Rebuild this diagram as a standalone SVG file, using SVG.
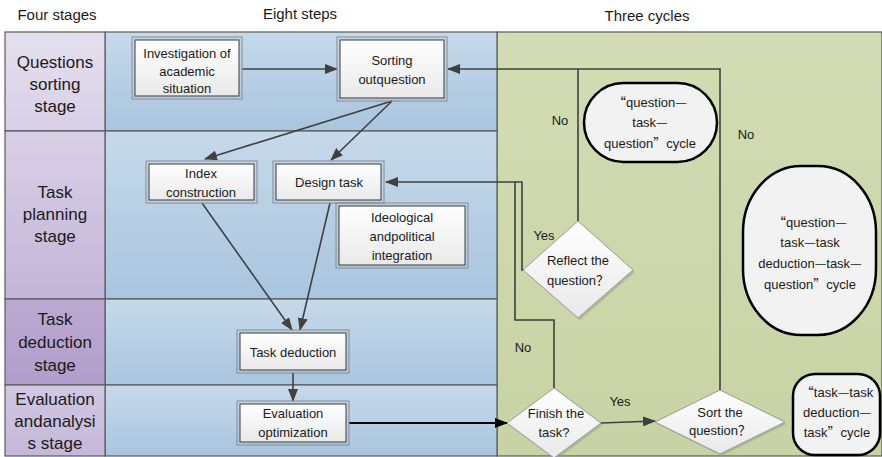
<svg xmlns="http://www.w3.org/2000/svg" width="882" height="457" viewBox="0 0 882 457">
<style>
text{font-family:"Liberation Sans","Noto Sans CJK SC",sans-serif;fill:#1a1a1a;text-anchor:middle}
.cj{font-family:"Noto Sans CJK SC",sans-serif}
.hd{font-size:15px}
.st{font-size:17px}
.bx{font-size:13px}
.lb{font-size:13px}
.cell{stroke:#5a5a5a;stroke-width:1.2}
.outer{fill:none;stroke:#8a8a8a;stroke-width:1}
.inner{fill:url(#gBox);stroke:#3a3a3a;stroke-width:1}
.dia{fill:url(#gBox);stroke:#9a9a9a;stroke-width:1}
.sh{fill:#9fa88a;opacity:0.6}
.cyc{fill:#f2f2f2;stroke:#000;stroke-width:2.5}
.ln{fill:none;stroke:#404040;stroke-width:1.6}
</style>
<defs>
<linearGradient id="gBox" x1="0" y1="0" x2="0" y2="1"><stop offset="0" stop-color="#ffffff"/><stop offset="1" stop-color="#e9e9e9"/></linearGradient>
<linearGradient id="gBlue" x1="0" y1="0" x2="0" y2="1"><stop offset="0" stop-color="#c6d9ea"/><stop offset="1" stop-color="#a9c5df"/></linearGradient>
<linearGradient id="gGreen" x1="0" y1="0" x2="0" y2="1"><stop offset="0" stop-color="#d3dcb4"/><stop offset="1" stop-color="#c7d3a4"/></linearGradient>
<linearGradient id="gP1" x1="0" y1="0" x2="0" y2="1"><stop offset="0" stop-color="#e4dfee"/><stop offset="1" stop-color="#d8d0e6"/></linearGradient>
<linearGradient id="gP2" x1="0" y1="0" x2="0" y2="1"><stop offset="0" stop-color="#d8d0e6"/><stop offset="1" stop-color="#c3b5d7"/></linearGradient>
<linearGradient id="gP3" x1="0" y1="0" x2="0" y2="1"><stop offset="0" stop-color="#bca9d1"/><stop offset="1" stop-color="#b29ecb"/></linearGradient>
<linearGradient id="gP4" x1="0" y1="0" x2="0" y2="1"><stop offset="0" stop-color="#d2c8e2"/><stop offset="1" stop-color="#c4b7d8"/></linearGradient>
<marker id="ar" markerUnits="userSpaceOnUse" markerWidth="13" markerHeight="10" refX="12" refY="5" orient="auto"><path d="M0,0 L13,5 L0,10 z" fill="#404040"/></marker>
<marker id="arK" markerUnits="userSpaceOnUse" markerWidth="13" markerHeight="10" refX="12" refY="5" orient="auto"><path d="M0,0 L13,5 L0,10 z" fill="#000"/></marker>
</defs>
<rect width="882" height="457" fill="#ffffff"/>
<g id="headers">
<text class="hd" x="57" y="20">Four stages</text>
<text class="hd" x="300" y="19">Eight steps</text>
<text class="hd" x="647" y="21">Three cycles</text>
</g>
<g id="lanes">
<rect x="497" y="32" width="385" height="424" fill="url(#gGreen)" class="cell"/>
<rect id="blue1" x="105" y="32" width="392" height="99" fill="url(#gBlue)" class="cell"/>
<rect id="blue2" x="105" y="131" width="392" height="168" fill="url(#gBlue)" class="cell"/>
<rect id="blue3" x="105" y="299" width="392" height="86" fill="url(#gBlue)" class="cell"/>
<rect id="blue4" x="105" y="385" width="392" height="71" fill="url(#gBlue)" class="cell"/>
<rect x="5" y="32" width="100" height="99" fill="url(#gP1)" class="cell"/>
<rect x="5" y="131" width="100" height="168" fill="url(#gP2)" class="cell"/>
<rect x="5" y="299" width="100" height="86" fill="url(#gP3)" class="cell"/>
<rect x="5" y="385" width="100" height="71" fill="url(#gP4)" class="cell"/>
</g>
<g id="stage1"><text class="st" x="55" y="68">Questions</text><text class="st" x="55" y="90">sorting</text><text class="st" x="55" y="112">stage</text></g>
<g id="stage2"><text class="st" x="55" y="198">Task</text><text class="st" x="55" y="220">planning</text><text class="st" x="55" y="242">stage</text></g>
<g id="stage3"><text class="st" x="55" y="325">Task</text><text class="st" x="55" y="348">deduction</text><text class="st" x="55" y="371">stage</text></g>
<g id="stage4"><text class="st" x="55" y="405">Evaluation</text><text class="st" x="55" y="427">andanalysi</text><text class="st" x="55" y="449">s stage</text></g>
<g id="connectors">
<line class="ln" x1="242" y1="69" x2="337" y2="69" marker-end="url(#ar)"/>
<polyline class="ln" points="720,390 720,69 448,69" marker-end="url(#ar)"/>
<line class="ln" x1="578" y1="221" x2="578" y2="69"/>
<line class="ln" x1="392" y1="101" x2="205" y2="159" marker-end="url(#ar)"/>
<line class="ln" x1="392" y1="101" x2="331" y2="160" marker-end="url(#ar)"/>
<polyline class="ln" points="523,270 522,270 522,182 386,182" marker-end="url(#ar)"/>
<polyline class="ln" points="554,388 554,320 515,320 515,182"/>
<line class="ln" x1="202" y1="203" x2="292" y2="330" marker-end="url(#ar)"/>
<line class="ln" x1="330" y1="203" x2="300" y2="330" marker-end="url(#ar)"/>
<line class="ln" x1="293" y1="373" x2="293" y2="401" marker-end="url(#ar)"/>
<line x1="349" y1="423" x2="507" y2="423" stroke="#000" stroke-width="2" marker-end="url(#arK)"/>
<line class="ln" x1="601" y1="423" x2="655" y2="421" marker-end="url(#ar)"/>
<text class="lb" x="560" y="125">No</text>
<text class="lb" x="746" y="139">No</text>
<text class="lb" x="544" y="240">Yes</text>
<text class="lb" x="523" y="352">No</text>
<text class="lb" x="620" y="406">Yes</text>
</g>
<g id="investigation">
<rect class="outer" x="132" y="37" width="110" height="62"/><rect class="inner" x="135" y="40" width="104" height="56"/>
<text class="bx" x="187" y="58">Investigation of</text><text class="bx" x="187" y="76">academic</text><text class="bx" x="187" y="93">situation</text>
</g>
<g id="sorting">
<rect class="outer" x="337" y="37" width="110" height="64"/><rect class="inner" x="340" y="40" width="104" height="58"/>
<text class="bx" x="392" y="65">Sorting</text><text class="bx" x="392" y="84">outquestion</text>
</g>
<g id="index">
<rect class="outer" x="146" y="161" width="111" height="42"/><rect class="inner" x="149" y="164" width="105" height="36"/>
<text class="bx" x="201" y="178">Index</text><text class="bx" x="201" y="197">construction</text>
</g>
<g id="design">
<rect class="outer" x="273" y="161" width="111" height="42"/><rect class="inner" x="276" y="164" width="105" height="36"/>
<text class="bx" x="329" y="187">Design task</text>
</g>
<g id="ideological">
<rect class="outer" x="336" y="203" width="132" height="65"/><rect class="inner" x="339" y="206" width="126" height="59"/>
<text class="bx" x="402" y="222">Ideological</text><text class="bx" x="402" y="241">andpolitical</text><text class="bx" x="402" y="260">integration</text>
</g>
<g id="deduction">
<rect class="outer" x="237" y="330" width="112" height="43"/><rect class="inner" x="240" y="333" width="106" height="37"/>
<text class="bx" x="293" y="357">Task deduction</text>
</g>
<g id="evaluation">
<rect class="outer" x="237" y="401" width="112" height="44"/><rect class="inner" x="240" y="404" width="106" height="38"/>
<text class="bx" x="293" y="418">Evaluation</text><text class="bx" x="293" y="437">optimization</text>
</g>
<g id="reflect">
<polygon class="sh" points="580,223 635,272 580,320 525,272"/>
<polygon class="dia" points="578,221 633,270 578,318 523,270"/>
<text class="bx" x="578" y="265">Reflect the</text><text class="bx" x="578" y="285">question<tspan class="cj">？</tspan></text>
</g>
<g id="finish">
<polygon class="sh" points="556,390 603,425 556,460 509,425"/>
<polygon class="dia" points="554,388 601,423 554,458 507,423"/>
<text class="bx" x="556" y="418">Finish the</text><text class="bx" x="554" y="437">task?</text>
</g>
<g id="sort">
<polygon class="sh" points="722,392 787,424 722,456 657,424"/>
<polygon class="dia" points="720,390 785,422 720,454 655,422"/>
<text class="bx" x="720" y="417">Sort the</text><text class="bx" x="720" y="435">question<tspan class="cj">？</tspan></text>
</g>
<g id="cycle1">
<rect class="cyc" x="584" y="83" width="133" height="79" rx="39.5"/>
<text class="bx" x="650" y="107"><tspan class="cj">“</tspan>question<tspan class="cj">—</tspan></text><text class="bx" x="650" y="127">task<tspan class="cj">—</tspan></text><text class="bx" x="650" y="148">question<tspan class="cj">”</tspan>cycle</text>
</g>
<g id="cycle2">
<rect class="cyc" x="743" y="166" width="133" height="169" rx="58" ry="66"/>
<text class="bx" x="810" y="227"><tspan class="cj">“</tspan>question<tspan class="cj">—</tspan></text><text class="bx" x="810" y="247">task<tspan class="cj">—</tspan>task</text><text class="bx" x="810" y="268">deduction<tspan class="cj">—</tspan>task<tspan class="cj">—</tspan></text><text class="bx" x="810" y="289">question<tspan class="cj">”</tspan>cycle</text>
</g>
<g id="cycle3">
<rect class="cyc" x="793" y="374" width="87" height="81" rx="22"/>
<text class="bx" x="837" y="397"><tspan class="cj">“</tspan>task<tspan class="cj">—</tspan>task</text><text class="bx" x="837" y="417">deduction<tspan class="cj">—</tspan></text><text class="bx" x="837" y="437">task<tspan class="cj">”</tspan>cycle</text>
</g>
</svg>
